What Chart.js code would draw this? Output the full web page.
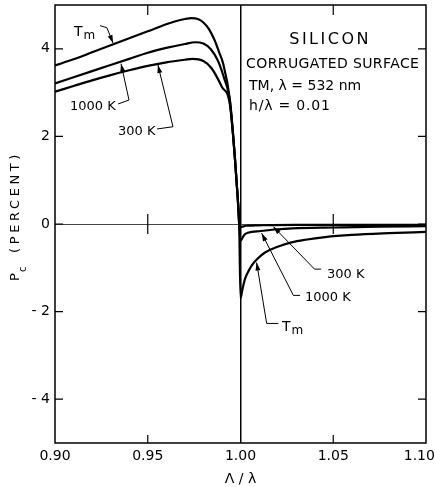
<!DOCTYPE html>
<html>
<head>
<meta charset="utf-8">
<script src="https://cdn.jsdelivr.net/npm/chart.js@4"></script>
<style>
  html, body { margin: 0; padding: 0; background: #fff; }
</style>
</head>
<body>
<canvas id="chart" width="435" height="487"></canvas>
<script>
// curve values
const tmX = [0.90, 0.91, 0.92, 0.93, 0.94, 0.95, 0.96, 0.965, 0.97, 0.9735, 0.977, 0.980, 0.983, 0.986, 0.9885, 0.9906, 0.9943, 0.997, 0.9985, 0.9993,
             1.0, 1.001, 1.0024, 1.004, 1.006, 1.009, 1.0132, 1.02, 1.0275, 1.035, 1.0456, 1.06, 1.08, 1.10];
const tmY = [3.62, 3.76, 3.92, 4.08, 4.24, 4.40, 4.56, 4.63, 4.68, 4.70, 4.68, 4.60, 4.45, 4.20, 3.92, 3.67, 2.83, 1.5, 0.6, 0.0,
             -1.70, -1.50, -1.26, -1.10, -0.95, -0.80, -0.65, -0.52, -0.42, -0.36, -0.30, -0.25, -0.21, -0.18];

const k1000X = [0.90, 0.91, 0.92, 0.93, 0.94, 0.95, 0.96, 0.97, 0.9755, 0.98, 0.984, 0.9878, 0.991, 0.9943, 0.997, 0.9985, 0.9993,
                1.0, 1.002, 1.004, 1.011, 1.02, 1.028, 1.05, 1.075, 1.10];
const k1000Y = [3.21, 3.35, 3.49, 3.63, 3.77, 3.91, 4.02, 4.11, 4.15, 4.12, 3.99, 3.73, 3.35, 2.80, 1.5, 0.6, 0.0,
                -0.38, -0.25, -0.20, -0.16, -0.12, -0.10, -0.08, -0.06, -0.05];

const k300X = [0.90, 0.91, 0.92, 0.93, 0.94, 0.95, 0.96, 0.97, 0.974, 0.98, 0.9845, 0.990, 0.9943, 0.997, 0.9985, 0.9993,
               1.0, 1.003, 1.01, 1.03, 1.10];
const k300Y = [3.02, 3.15, 3.28, 3.40, 3.51, 3.61, 3.69, 3.75, 3.77, 3.72, 3.55, 3.13, 2.72, 1.5, 0.6, 0.0,
               -0.07, -0.04, -0.03, -0.02, -0.02];

const xTicks = [0.90, 0.95, 1.00, 1.05, 1.10];
const yTicks = [-4, -2, 0, 2, 4];

// curve labels with leader arrows (data coordinates)
const leaders = [
  { label: 'Tm',     at: [0.9102, 4.30],  path: [[0.9243, 4.53], [0.9280, 4.48], [0.9313, 4.13]] },
  { label: '1000 K', at: [0.9081, 2.60],  path: [[0.9340, 2.74], [0.9399, 2.83], [0.9356, 3.66]] },
  { label: '300 K',  at: [0.9340, 2.03],  path: [[0.9550, 2.17], [0.9636, 2.22], [0.9555, 3.63]] },
  { label: '300 K',  at: [1.0466, -1.23], path: [[1.0435, -1.03], [1.0399, -1.03], [1.0177, -0.06]] },
  { label: '1000 K', at: [1.0348, -1.76], path: [[1.0321, -1.63], [1.0285, -1.63], [1.0114, -0.21]] },
  { label: 'Tm',     at: [1.0224, -2.44], path: [[1.0204, -2.27], [1.0141, -2.27], [1.0087, -0.88]] }
];

const notes = [
  { text: 'SILICON',            at: [1.0483, 4.12],  size: 16, spacing: 2.5, align: 'center' },
  { text: 'CORRUGATED SURFACE', at: [1.0030, 3.553], size: 14, spacing: 0.4, align: 'left' },
  { text: 'TM, λ = 532 nm',     at: [1.0046, 3.054], size: 14, spacing: 0,   align: 'left' },
  { text: 'h/λ = 0.01',         at: [1.0046, 2.601], size: 14, spacing: 0.8, align: 'left' }
];

const FONT = '"DejaVu Sans", sans-serif';

function toPoints(xs, ys) {
  return xs.map((x, i) => ({ x: x, y: ys[i] }));
}

function line(data) {
  return {
    data: data,
    borderColor: '#000',
    borderWidth: 2.2,
    pointRadius: 0,
    cubicInterpolationMode: 'monotone',
    fill: false
  };
}

function drawArrow(ctx, pts) {
  ctx.beginPath();
  ctx.moveTo(pts[0][0], pts[0][1]);
  for (let i = 1; i < pts.length; i++) ctx.lineTo(pts[i][0], pts[i][1]);
  ctx.lineWidth = 1;
  ctx.stroke();
  const a = pts[pts.length - 2], b = pts[pts.length - 1];
  const ang = Math.atan2(b[1] - a[1], b[0] - a[0]);
  ctx.beginPath();
  ctx.moveTo(b[0], b[1]);
  ctx.lineTo(b[0] - 8 * Math.cos(ang) + 2.5 * Math.sin(ang), b[1] - 8 * Math.sin(ang) - 2.5 * Math.cos(ang));
  ctx.lineTo(b[0] - 8 * Math.cos(ang) - 2.5 * Math.sin(ang), b[1] - 8 * Math.sin(ang) + 2.5 * Math.cos(ang));
  ctx.closePath();
  ctx.fill();
}

function drawLabel(ctx, text, x, y) {
  ctx.textAlign = 'left';
  ctx.textBaseline = 'alphabetic';
  if (text === 'Tm') {
    ctx.font = '14px ' + FONT;
    ctx.fillText('T', x, y);
    const w = ctx.measureText('T').width;
    ctx.font = '12px ' + FONT;
    ctx.fillText('m', x + w + 1, y + 3);
  } else {
    ctx.font = '13px ' + FONT;
    ctx.fillText(text, x, y);
  }
}

const decor = {
  id: 'decor',
  afterDatasetsDraw(chart) {
    const ctx = chart.ctx;
    const area = chart.chartArea;
    const xs = chart.scales.x, ys = chart.scales.y;
    ctx.save();
    ctx.strokeStyle = '#000';
    ctx.fillStyle = '#000';

    // frame
    ctx.lineWidth = 1.5;
    ctx.strokeRect(area.left, area.top, area.right - area.left, area.bottom - area.top);

    // inward ticks
    ctx.lineWidth = 1.2;
    ctx.beginPath();
    yTicks.forEach(v => {
      const py = ys.getPixelForValue(v);
      ctx.moveTo(area.left, py); ctx.lineTo(area.left + 8, py);
      ctx.moveTo(area.right, py); ctx.lineTo(area.right - 8, py);
    });
    xTicks.forEach(v => {
      if (v <= 0.90 || v >= 1.10 || Math.abs(v - 1) < 1e-9) return;
      const px = xs.getPixelForValue(v);
      const p0 = ys.getPixelForValue(0);
      ctx.moveTo(px, area.top); ctx.lineTo(px, area.top + 10);
      ctx.moveTo(px, area.bottom); ctx.lineTo(px, area.bottom - 8);
      ctx.moveTo(px, p0 - 10); ctx.lineTo(px, p0 + 10);
    });
    ctx.stroke();

    // leader arrows and curve labels
    leaders.forEach(l => {
      const pts = l.path.map(p => [xs.getPixelForValue(p[0]), ys.getPixelForValue(p[1])]);
      drawArrow(ctx, pts);
      drawLabel(ctx, l.label, xs.getPixelForValue(l.at[0]), ys.getPixelForValue(l.at[1]));
    });

    // text block
    notes.forEach(n => {
      ctx.font = n.size + 'px ' + FONT;
      ctx.letterSpacing = n.spacing + 'px';
      ctx.textAlign = n.align;
      ctx.textBaseline = 'alphabetic';
      ctx.fillText(n.text, xs.getPixelForValue(n.at[0]), ys.getPixelForValue(n.at[1]));
    });
    ctx.letterSpacing = '0px';

    // x axis title
    ctx.font = '14px ' + FONT;
    ctx.textAlign = 'center';
    ctx.fillText('Λ / λ', xs.getPixelForValue(1.0), area.bottom + 40);

    // y axis title, rotated, with subscript
    ctx.translate(19, ys.getPixelForValue(-1.3));
    ctx.rotate(-Math.PI / 2);
    ctx.textAlign = 'left';
    ctx.font = '13px ' + FONT;
    ctx.fillText('P', 0, 0);
    ctx.font = '10px ' + FONT;
    ctx.fillText('c', 9, 7);
    ctx.font = '13px ' + FONT;
    ctx.letterSpacing = '3.6px';
    ctx.fillText('(PERCENT)', 28, 0);
    ctx.restore();
  }
};

new Chart(document.getElementById('chart'), {
  type: 'line',
  data: {
    datasets: [
      line(toPoints(tmX, tmY)),
      line(toPoints(k1000X, k1000Y)),
      line(toPoints(k300X, k300Y))
    ]
  },
  options: {
    responsive: false,
    animation: false,
    layout: { padding: { top: 5, right: 9, left: 0, bottom: 0 } },
    plugins: {
      legend: { display: false },
      tooltip: { enabled: false }
    },
    scales: {
      x: {
        type: 'linear',
        min: 0.90,
        max: 1.10,
        afterBuildTicks: s => { s.ticks = xTicks.map(v => ({ value: v })); },
        afterFit: s => { s.height = 44; s.paddingLeft = 0; s.paddingRight = 0; },
        ticks: {
          color: '#000',
          padding: 5,
          maxRotation: 0,
          font: { family: FONT, size: 14 },
          // last label nudged left so it stays inside the canvas
          callback: v => Math.abs(v - 1.10) < 1e-9 ? Number(v).toFixed(2) + '   ' : Number(v).toFixed(2)
        },
        grid: {
          drawTicks: false,
          color: c => (c.tick && Math.abs(c.tick.value - 1) < 1e-9) ? '#000' : 'rgba(0,0,0,0)',
          lineWidth: 1.5
        },
        border: { display: false }
      },
      y: {
        min: -5,
        max: 5,
        afterBuildTicks: s => { s.ticks = yTicks.map(v => ({ value: v })); },
        afterFit: s => { s.width = 55; s.paddingTop = 0; s.paddingBottom = 0; },
        ticks: {
          color: '#000',
          padding: 5,
          font: { family: FONT, size: 14 },
          callback: v => v < 0 ? '- ' + Math.abs(v) : String(v)
        },
        grid: {
          drawTicks: false,
          color: c => (c.tick && c.tick.value === 0) ? '#444' : 'rgba(0,0,0,0)',
          lineWidth: 1
        },
        border: { display: false }
      }
    }
  },
  plugins: [decor]
});
</script>
</body>
</html>
